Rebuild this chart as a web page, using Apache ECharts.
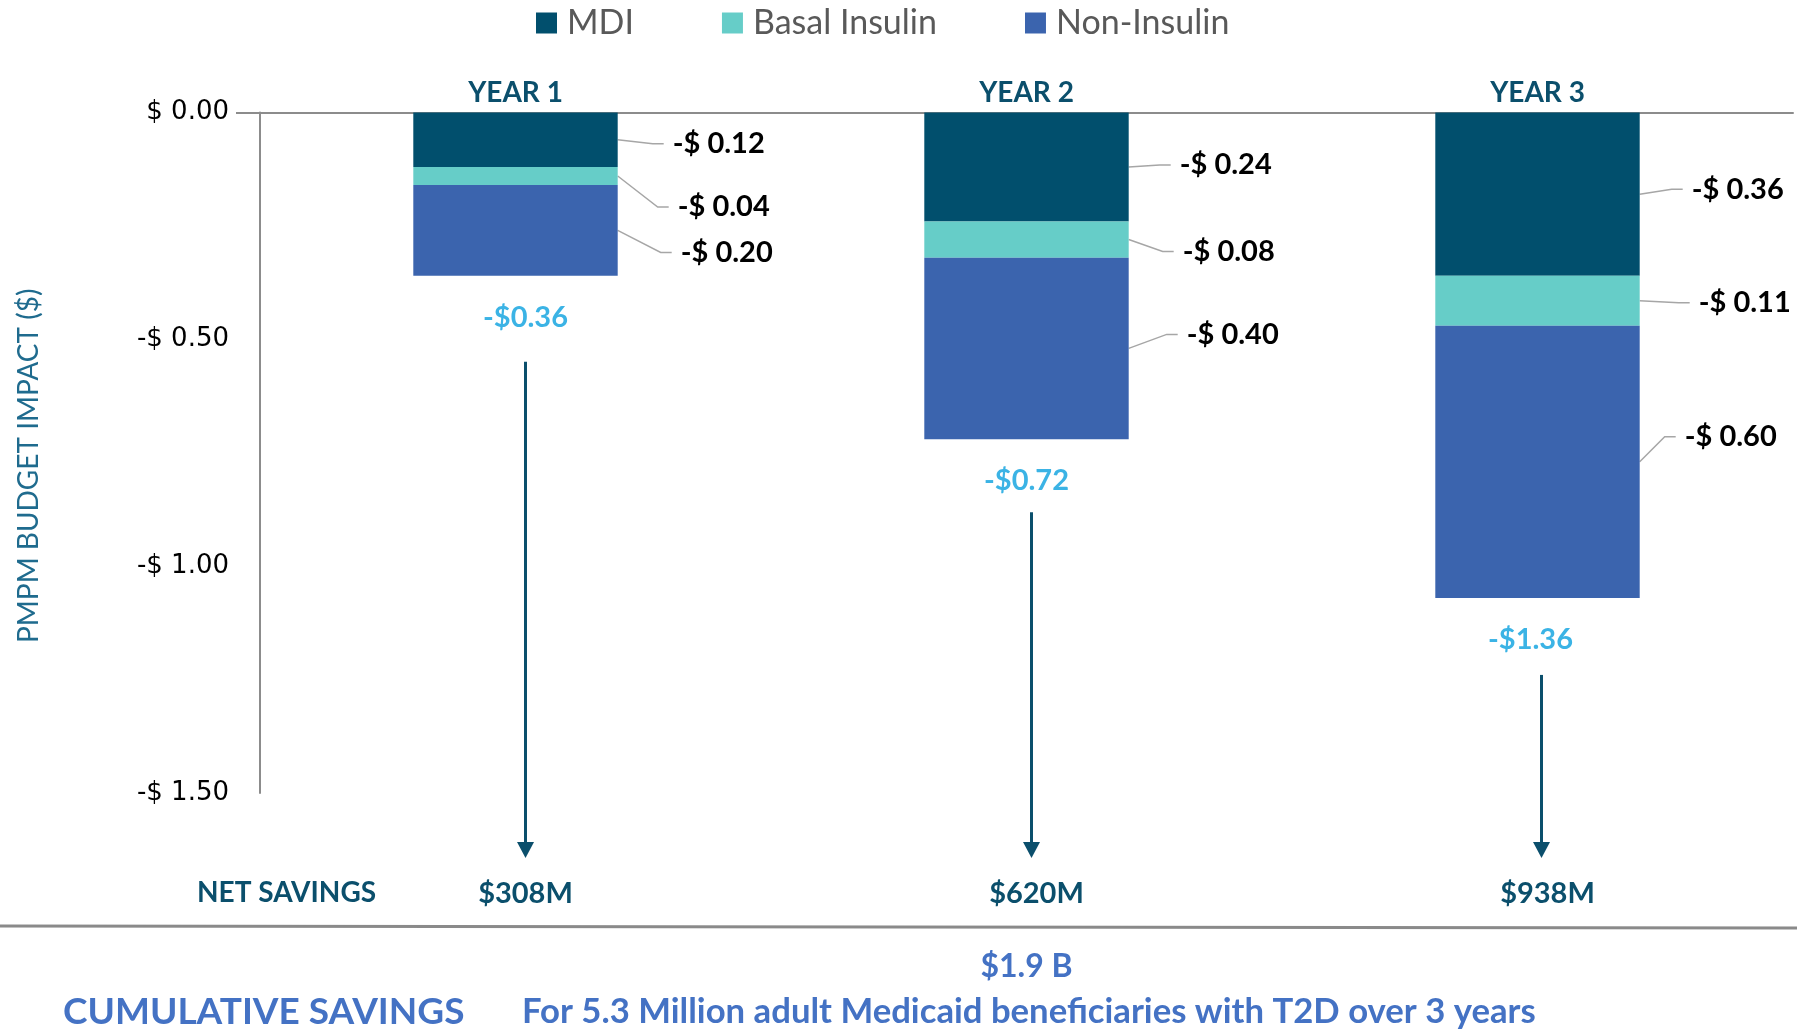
<!DOCTYPE html>
<html>
<head>
<meta charset="utf-8">
<title>PMPM Budget Impact</title>
<script src="https://cdn.jsdelivr.net/npm/echarts@6/dist/echarts.min.js"></script>
<style>
  html, body { margin: 0; padding: 0; background: #ffffff; }
  #chart { width: 1800px; height: 1030px; }
</style>
</head>
<body>
<div id="chart"></div>
<script>
// ---- data ----
const years = ['YEAR 1', 'YEAR 2', 'YEAR 3'];
const mdi = [-0.12, -0.24, -0.36];
const basalInsulin = [-0.04, -0.08, -0.11];
const nonInsulin = [-0.20, -0.40, -0.60];
const totalLabels = ['-$0.36', '-$0.72', '-$1.36'];
const netSavings = ['$308M', '$620M', '$938M'];
const yMin = -1.5, yMax = 0, yStep = 0.5;
const cumulativeTotal = '$1.9 B';
const cumulativeTitle = 'CUMULATIVE SAVINGS';
const cumulativeNote = 'For 5.3 Million adult Medicaid beneficiaries with T2D over 3 years';

const segments = [mdi, basalInsulin, nonInsulin];
// stacked bar bottoms: where the total labels and arrows hang from
const stackTotals = years.map((_, i) => mdi[i] + basalInsulin[i] + nonInsulin[i]);

// ---- styling ----
const C_MDI = '#014F6D', C_BASAL = '#66CDC8', C_NON = '#3B64AE';
const C_TEAL = '#0B4F6C', C_TOTAL = '#0AA0DE', C_BLUE = '#4472C4', C_GRAY = '#8C8C8C';
const C_LEADER = '#A6A6A6';
const FONT = 'Lato, "Noto Sans", sans-serif';
const BAR_RATIO = 0.4;

// leader-label placement per series: [gap from bar edge, vertical shift from segment middle]
const labelPlace = [
  [[55, 4], [51, -2], [52, -5]],
  [[60, 31], [54, 12], [59, 2]],
  [[63, 22], [58, -14], [45, -25]]
];
// horizontal nudges of the total labels and arrows, per year
const totalNudge = [10, 0, -7];
const arrowNudge = [10, 5, 4];
// distance from the bar bottom to the top of each savings arrow
const arrowGap = [86, 73, 77];

const money = v => '-$ ' + Math.abs(v).toFixed(2);

function segLabelLayout(sIdx) {
  return function (p) {
    const place = labelPlace[sIdx][p.dataIndex];
    const r = p.rect;
    return {
      x: r.x + r.width + place[0],
      y: r.y + r.height / 2 + place[1],
      align: 'left', verticalAlign: 'middle'
    };
  };
}

function segSeries(name, data, color, sIdx) {
  return {
    name, type: 'bar', stack: 'impact', data,
    xAxisIndex: 0, yAxisIndex: 0,
    barWidth: (BAR_RATIO * 100) + '%',
    itemStyle: { color },
    label: {
      show: true, position: 'right', formatter: p => money(p.value),
      fontFamily: FONT, fontWeight: 'bold', fontSize: 29, color: '#000'
    },
    labelLayout: segLabelLayout(sIdx),
    emphasis: { disabled: true }
  };
}

const chart = echarts.init(document.getElementById('chart'), null, { renderer: 'canvas' });

const option = {
  backgroundColor: '#ffffff',
  animation: false,
  legend: {
    data: ['MDI', 'Basal Insulin', 'Non-Insulin'],
    icon: 'rect', itemWidth: 21, itemHeight: 21, itemGap: 88,
    left: 531, top: 1,
    textStyle: { fontFamily: FONT, fontSize: 34, color: '#595959', padding: [0, 0, 0, 5] }
  },
  grid: { left: 260, right: 7, top: 112.5, bottom: 237, containLabel: false },
  xAxis: [
    {
      type: 'category', data: years, position: 'top',
      axisLine: { show: true, lineStyle: { color: C_GRAY, width: 2 } },
      axisTick: { show: false },
      axisLabel: { margin: 6, fontFamily: FONT, fontWeight: 'bold', fontSize: 28, color: C_TEAL }
    },
    {
      type: 'category', data: netSavings, position: 'bottom', offset: 78,
      axisLine: { show: false, onZero: false },
      axisTick: { show: false },
      axisLabel: {
        margin: 8, padding: [0, 0, 0, 20],
        fontFamily: FONT, fontWeight: 'bold', fontSize: 29, color: C_TEAL
      }
    }
  ],
  yAxis: {
    type: 'value', min: yMin, max: yMax, interval: yStep,
    name: 'PMPM BUDGET IMPACT ($)', nameLocation: 'middle', nameRotate: 90, nameGap: 217,
    nameTextStyle: { fontFamily: FONT, fontSize: 28, color: '#1F6B8E', padding: [0, 26, 0, 0] },
    axisLine: { show: true, lineStyle: { color: C_GRAY, width: 2 } },
    axisTick: { show: true, customValues: [0], length: 24, lineStyle: { color: C_GRAY, width: 2 } },
    splitLine: { show: false },
    axisLabel: {
      margin: 31, fontFamily: '"DejaVu Sans", sans-serif', fontSize: 26, color: '#000',
      formatter: v => (v < 0 ? '-$ ' : '$ ') + Math.abs(v).toFixed(2)
    }
  },
  series: [
    segSeries('MDI', mdi, C_MDI, 0),
    segSeries('Basal Insulin', basalInsulin, C_BASAL, 1),
    segSeries('Non-Insulin', nonInsulin, C_NON, 2),
    {
      name: 'total', type: 'scatter',
      data: stackTotals.map((v, i) => ({ value: [i, v], label: { offset: [totalNudge[i], 0] } })),
      xAxisIndex: 0, yAxisIndex: 0,
      symbolSize: 0, silent: true,
      label: {
        show: true, position: 'bottom', distance: 27,
        formatter: p => totalLabels[p.dataIndex],
        fontFamily: FONT, fontWeight: 'bold', fontSize: 29, color: C_TOTAL
      }
    }
  ]
};

chart.setOption(option);

// ---- annotations: leader lines, arrows, separator and cumulative text ----
const graphics = [];
const band = chart.convertToPixel({ xAxisIndex: 0 }, years[1]) - chart.convertToPixel({ xAxisIndex: 0 }, years[0]);
const halfBar = band * BAR_RATIO / 2;

years.forEach((yr, j) => {
  const cx = chart.convertToPixel({ xAxisIndex: 0 }, yr);
  const barRight = cx + halfBar;
  let top = 0;
  segments.forEach((seg, s) => {
    const bottom = top + seg[j];
    const yTop = chart.convertToPixel({ yAxisIndex: 0 }, top);
    const yBot = chart.convertToPixel({ yAxisIndex: 0 }, bottom);
    const yMid = (yTop + yBot) / 2;
    const place = labelPlace[s][j];
    const tx = barRight + place[0];
    const ty = yMid + place[1];
    graphics.push({
      type: 'polyline', silent: true,
      shape: { points: [[barRight, yMid], [tx - 20, ty], [tx - 9, ty]] },
      style: { stroke: C_LEADER, lineWidth: 1.5, fill: null }
    });
    top = bottom;
  });
});

const gridBottomPx = chart.convertToPixel({ yAxisIndex: 0 }, yMin);
const tipY = gridBottomPx + 65;
stackTotals.forEach((v, i) => {
  const p = chart.convertToPixel({ seriesIndex: 3 }, [i, v]);
  const x = p[0] + arrowNudge[i];
  const y0 = p[1] + arrowGap[i];
  graphics.push({
    type: 'line', shape: { x1: x, y1: y0, x2: x, y2: tipY - 12 },
    style: { stroke: C_TEAL, lineWidth: 3 }, silent: true
  });
  graphics.push({
    type: 'polygon', shape: { points: [[x - 8.5, tipY - 16], [x + 8.5, tipY - 16], [x, tipY]] },
    style: { fill: C_TEAL }, silent: true
  });
});

graphics.push({
  type: 'text', x: 197, y: gridBottomPx + 100,
  style: { text: 'NET SAVINGS', fontFamily: FONT, fontWeight: 'bold', fontSize: 28, fill: C_TEAL, align: 'left', verticalAlign: 'middle' }
});
graphics.push({
  type: 'line', shape: { x1: 0, y1: 926, x2: 1797, y2: 928 },
  style: { stroke: '#8A8A8A', lineWidth: 3 }, silent: true
});
const midX = chart.convertToPixel({ xAxisIndex: 0 }, years[1]);
graphics.push({
  type: 'text', x: midX, y: 967,
  style: { text: cumulativeTotal, fontFamily: FONT, fontWeight: 'bold', fontSize: 32, fill: C_BLUE, align: 'center', verticalAlign: 'middle' }
});
graphics.push({
  type: 'text', x: 63, y: 1012,
  style: { text: cumulativeTitle, fontFamily: FONT, fontWeight: 'bold', fontSize: 37, fill: C_BLUE, align: 'left', verticalAlign: 'middle' }
});
graphics.push({
  type: 'text', x: 522, y: 1012,
  style: { text: cumulativeNote, fontFamily: FONT, fontWeight: 'bold', fontSize: 34.7, fill: C_BLUE, align: 'left', verticalAlign: 'middle' }
});

chart.setOption({ graphic: graphics });
</script>
</body>
</html>
